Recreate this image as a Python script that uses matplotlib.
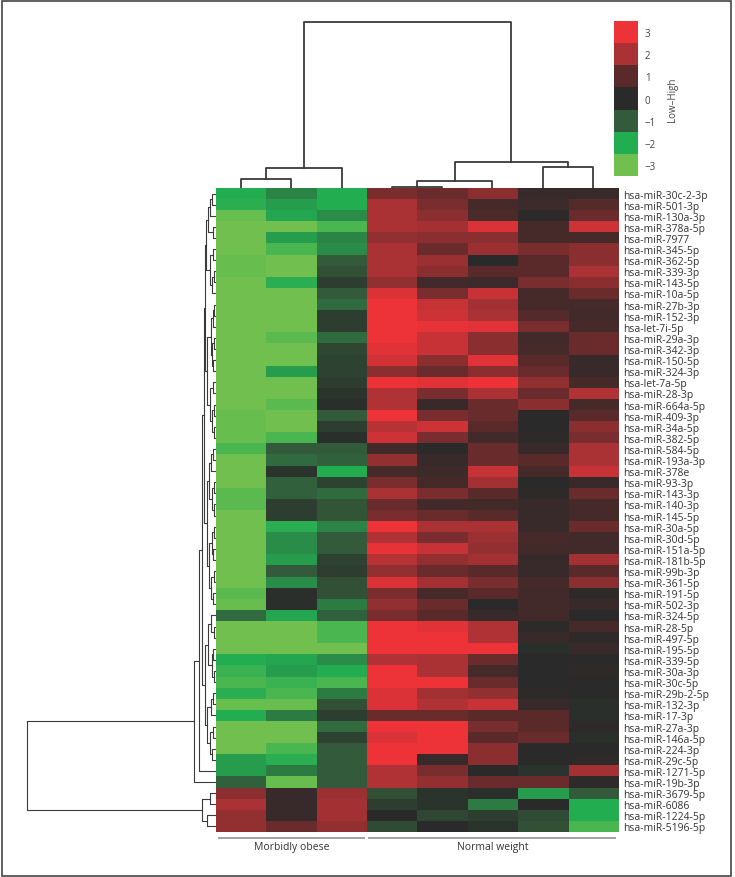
#!/usr/bin/env python3
# -*- coding: utf-8 -*-
"""
Clustered heat map of miRNA expression, morbidly obese vs normal weight.
Rows are miRNAs, columns are samples (3 obese, 5 normal weight).
"""

import numpy as np
from matplotlib import pyplot as plt
from matplotlib.colors import LinearSegmentedColormap
from matplotlib.patches import Rectangle

plt.rcParams['font.family'] = ['Open Sans', 'DejaVu Sans']

""" data read off the figure (z-scores, -3 .. 3) """
mirnas = [
    "hsa-miR-30c-2-3p", "hsa-miR-501-3p", "hsa-miR-130a-3p", "hsa-miR-378a-5p",
    "hsa-miR-7977", "hsa-miR-345-5p", "hsa-miR-362-5p", "hsa-miR-339-3p",
    "hsa-miR-143-5p", "hsa-miR-10a-5p", "hsa-miR-27b-3p", "hsa-miR-152-3p",
    "hsa-let-7i-5p", "hsa-miR-29a-3p", "hsa-miR-342-3p", "hsa-miR-150-5p",
    "hsa-miR-324-3p", "hsa-let-7a-5p", "hsa-miR-28-3p", "hsa-miR-664a-5p",
    "hsa-miR-409-3p", "hsa-miR-34a-5p", "hsa-miR-382-5p", "hsa-miR-584-5p",
    "hsa-miR-193a-3p", "hsa-miR-378e", "hsa-miR-93-3p", "hsa-miR-143-3p",
    "hsa-miR-140-3p", "hsa-miR-145-5p", "hsa-miR-30a-5p", "hsa-miR-30d-5p",
    "hsa-miR-151a-5p", "hsa-miR-181b-5p", "hsa-miR-99b-3p", "hsa-miR-361-5p",
    "hsa-miR-191-5p", "hsa-miR-502-3p", "hsa-miR-324-5p", "hsa-miR-28-5p",
    "hsa-miR-497-5p", "hsa-miR-195-5p", "hsa-miR-339-5p", "hsa-miR-30a-3p",
    "hsa-miR-30c-5p", "hsa-miR-29b-2-5p", "hsa-miR-132-3p", "hsa-miR-17-3p",
    "hsa-miR-27a-3p", "hsa-miR-146a-5p", "hsa-miR-224-3p", "hsa-miR-29c-5p",
    "hsa-miR-1271-5p", "hsa-miR-19b-3p", "hsa-miR-3679-5p", "hsa-miR-6086",
    "hsa-miR-1224-5p", "hsa-miR-5196-5p",
]

groups = ["Morbidly obese", "Normal weight"]
group_sizes = [3, 5]

# morbidly obese samples
obese_1 = [-2.0, -2.1, -2.9, -3.0, -3.0, -3.0, -2.9, -2.9, -3.0, -3.0, -3.0, -3.0,
           -3.0, -3.0, -3.0, -3.0, -3.0, -3.0, -3.0, -3.0, -2.9, -2.9, -2.9, -2.5,
           -3.0, -3.0, -3.0, -2.7, -2.7, -3.0, -3.0, -3.0, -3.0, -3.0, -3.0, -3.0,
           -2.7, -2.9, -1.2, -3.0, -3.0, -3.0, -2.0, -2.3, -2.5, -2.1, -2.9, -2.0,
           -3.0, -3.0, -3.0, -1.8, -1.8, -1.1, 1.6, 2.0, 1.7, 1.7]
obese_2 = [-1.5, -1.8, -1.9, -3.0, -1.8, -2.5, -3.0, -3.0, -2.1, -3.0, -3.0, -3.0,
           -3.0, -2.7, -3.0, -3.0, -1.8, -3.0, -3.0, -2.7, -3.0, -3.0, -2.5, -1.0,
           -1.2, -0.2, -1.1, -1.1, -0.4, -0.4, -2.1, -1.6, -1.6, -1.8, -1.0, -1.6,
           -0.1, -0.1, -1.9, -3.0, -3.0, -3.0, -1.9, -1.8, -2.3, -2.5, -2.9, -1.4,
           -3.0, -3.0, -2.5, -2.1, -1.4, -2.9, 0.3, 0.3, 0.3, 1.2]
obese_3 = [-2.0, -2.0, -1.6, -2.5, -1.5, -1.6, -1.0, -0.8, -0.4, -1.0, -1.2, -0.4,
           -0.4, -1.2, -0.6, -0.5, -0.5, -0.4, -0.2, -0.1, -1.0, -0.4, -0.1, -1.0,
           -1.1, -2.0, -0.5, -1.2, -0.9, -0.9, -1.5, -1.0, -1.0, -0.5, -0.4, -0.8,
           -0.8, -1.4, -1.1, -2.5, -2.5, -3.0, -1.6, -2.0, -2.5, -1.4, -0.8, -0.4,
           -1.2, -0.5, -1.0, -1.0, -1.0, -1.0, 1.8, 1.9, 1.9, 1.7]
# normal weight samples
normal_1 = [1.4, 2.0, 2.0, 2.0, 1.7, 2.0, 2.0, 2.0, 1.7, 2.7, 3.0, 3.0,
            3.0, 3.0, 2.8, 2.6, 1.6, 3.0, 2.1, 2.1, 3.0, 2.2, 2.5, 0.5,
            1.7, 0.6, 1.4, 2.0, 1.2, 1.4, 3.0, 2.1, 2.9, 2.2, 1.7, 2.7,
            1.4, 1.7, 1.4, 3.0, 3.0, 3.0, 2.1, 3.0, 3.0, 2.7, 2.7, 1.2,
            3.0, 2.7, 3.0, 3.0, 2.1, 2.1, -0.8, -0.4, 0.0, -0.7]
normal_2 = [1.2, 1.4, 1.6, 1.9, 1.6, 1.2, 1.8, 1.6, 0.5, 1.4, 2.4, 2.5,
            2.9, 2.4, 2.4, 1.6, 1.2, 2.8, 1.4, 0.3, 1.4, 2.5, 1.4, 0.0,
            0.3, 0.4, 0.6, 1.4, 0.5, 1.2, 2.0, 1.4, 2.4, 1.7, 1.2, 1.9,
            0.6, 1.2, 1.0, 2.8, 3.0, 3.0, 2.0, 2.0, 3.0, 1.9, 2.1, 1.2,
            3.0, 3.0, 3.0, 0.3, 1.4, 1.7, -0.2, -0.2, -0.6, 0.0]
normal_3 = [1.6, 0.6, 0.7, 2.7, 1.6, 1.8, 0.0, 1.0, 0.4, 2.4, 1.9, 2.0,
            2.8, 1.6, 1.6, 2.8, 1.6, 3.0, 2.0, 1.2, 1.2, 1.0, 0.5, 1.2,
            1.2, 2.4, 1.9, 1.0, 0.5, 1.0, 2.0, 1.8, 1.7, 1.9, 1.0, 1.4,
            1.0, 0.0, 0.3, 2.1, 2.1, 3.0, 1.2, 0.6, 1.2, 1.7, 2.4, 1.0,
            1.4, 1.0, 1.6, 1.6, 0.0, 1.2, -0.1, -1.4, -0.4, -0.2]
normal_4 = [0.3, 0.4, 0.1, 0.6, 0.6, 1.4, 1.0, 1.0, 1.4, 0.6, 0.6, 0.9,
            1.4, 0.5, 0.6, 1.0, 1.2, 1.7, 1.2, 1.6, 0.0, 0.0, 0.1, 0.3,
            1.0, 0.6, 0.0, 0.1, 0.3, 0.3, 0.3, 0.6, 0.5, 0.3, 0.3, 0.6,
            0.5, 0.5, 0.5, 0.1, 0.3, -0.1, 0.0, 0.0, 0.0, 0.1, 0.3, 1.0,
            1.0, 1.2, 0.0, 0.0, -0.2, 1.2, -1.8, 0.0, -0.7, -0.8]
normal_5 = [0.3, 0.9, 1.2, 2.5, 0.6, 1.6, 1.6, 2.0, 1.6, 1.2, 0.6, 0.5,
            0.6, 1.2, 1.2, 0.3, 0.3, 0.6, 2.1, 0.6, 1.0, 1.6, 1.4, 2.0,
            2.0, 2.4, 0.3, 1.2, 0.6, 0.6, 1.2, 0.5, 0.5, 1.9, 1.0, 1.6,
            0.1, 0.3, 0.0, 0.6, 0.1, 0.3, 0.0, 0.1, 0.0, 0.0, -0.1, -0.1,
            0.1, -0.1, 0.0, 0.1, 1.9, 0.1, -1.0, -2.0, -2.0, -2.5]

values = np.array([obese_1, obese_2, obese_3,
                   normal_1, normal_2, normal_3, normal_4, normal_5]).T

# colour scale of the figure, from -3 (low) to 3 (high)
scale_levels = [3, 2, 1, 0, -1, -2, -3]
scale_colors = ['#70bf4f', '#23ad52', '#335a3a', '#2a2a2a',
                '#5a2a2b', '#aa3234', '#ee3338']

# dendrograms as nested (left, right, height) merges, heights in pixels
col_tree = (((0, 1, 9), 2, 20), (((3, 4, 1.5), 5, 6.7), (6, 7, 21), 26), 166.5)

A = (((0, 1, 4), 2, 6), (3, 4, 3), 8)
B = ((5, 6, 3), ((7, 8, 2), 9, 4), 6)
C = (((10, 11, 2), 12, 3), ((13, 14, 2), (15, 16, 3), 4), 5)
D = ((17, 18, 3), ((19, 20, 2), (21, 22, 2), 4), 6)
E = (((23, 24, 3), 25, 5), ((26, 27, 2), (28, 29, 2), 4), 7)
F = (((30, 31, 2), (32, 33, 3), 4), ((34, 35, 2), (36, 37, 3), 5), 7)
Q1 = ((38, (39, 40, 2), 5), ((41, 42, 3), (43, 44, 2), 4), 8)
Q2 = (((45, 46, 3), 47, 5), ((48, 49, 3), (50, 51, 4), 6), 9)
P = (((A, B, 10), (C, D, 9), 11), (E, F, 9), 12)
top = (((P, (Q1, Q2, 11), 14), 52, 17), 53, 22)
bottom = ((54, 55, 6), (56, 57, 9), 14)
row_tree = (top, bottom, 189)


def draw_tree(ax, node, vertical, **kw):
    """ draws a dendrogram node, returns (leaf position, height) """
    if not isinstance(node, tuple):
        return node, 0.0
    left, right, h = node
    p1, h1 = draw_tree(ax, left, vertical, **kw)
    p2, h2 = draw_tree(ax, right, vertical, **kw)
    if vertical:
        ax.plot([p1, p1, p2, p2], [h1, h, h, h2], **kw)
    else:
        ax.plot([h1, h, h, h2], [p1, p1, p2, p2], **kw)
    return (p1 + p2) / 2, h


""" visualization """
W, H = 735, 878
fig = plt.figure(figsize=(W / 100, H / 100), dpi=100)


def px_axes(x0, y0, x1, y1):
    # axes from pixel box (top-left origin)
    return fig.add_axes([x0 / W, 1 - y1 / H, (x1 - x0) / W, (y1 - y0) / H])


cmap = LinearSegmentedColormap.from_list('gkr', scale_colors)
nrows, ncols = values.shape

# heat map
ax = px_axes(216, 189, 618, 833)
ax.imshow(values, cmap=cmap, vmin=-3, vmax=3, aspect='auto',
          interpolation='nearest')
ax.set_xticks([])
ax.yaxis.tick_right()
ax.set_yticks(np.arange(nrows))
ax.set_yticklabels(mirnas, fontsize=7.5, color='#333333')
ax.tick_params(axis='y', length=0, pad=4)
for s in ax.spines.values():
    s.set_visible(False)

# group brackets and names under the heat map
start = -0.5
for name, n in zip(groups, group_sizes):
    end = start + n
    ax.plot([start + 0.05, end - 0.05], [-0.009, -0.009], color='#a0a0a0',
            lw=1.4, transform=ax.get_xaxis_transform(), clip_on=False)
    ax.text((start + end) / 2, -0.023, name, ha='center', va='center',
            fontsize=7.5, color='#333333', transform=ax.get_xaxis_transform())
    start = end

# column dendrogram
axc = px_axes(216, 20, 618, 189)
draw_tree(axc, col_tree, True, color='#3a3a3a', lw=1.3)
axc.set_xlim(-0.5, ncols - 0.5)
axc.set_ylim(0, 169)
axc.axis('off')

# row dendrogram
axr = px_axes(20, 189, 216, 833)
draw_tree(axr, row_tree, False, color='#3a3a3a', lw=0.8)
axr.set_xlim(196, 0)
axr.set_ylim(nrows - 0.5, -0.5)
axr.axis('off')

# colour key
axk = px_axes(614, 22, 638, 177)
axk.imshow(np.array(scale_levels)[:, None], cmap=cmap, vmin=-3, vmax=3,
           aspect='auto', interpolation='nearest')
axk.set_xticks([])
axk.yaxis.tick_right()
axk.set_yticks(np.arange(len(scale_levels)))
axk.set_yticklabels([str(v).replace('-', '\u2212') for v in scale_levels],
                    fontsize=7, color='#444444')
axk.tick_params(axis='y', length=0, pad=5)
axk.yaxis.set_label_position('right')
axk.set_ylabel('Low\u2013High', fontsize=7, color='#444444', labelpad=8)
for s in axk.spines.values():
    s.set_visible(False)

# frame around the whole figure
fig.add_artist(Rectangle((1.5 / W, 1.5 / H), (731 - 1.5) / W, (876.5 - 1.5) / H,
                         transform=fig.transFigure, fill=False,
                         ec='#444444', lw=1.2))

fig.savefig('out.png', dpi=100)
